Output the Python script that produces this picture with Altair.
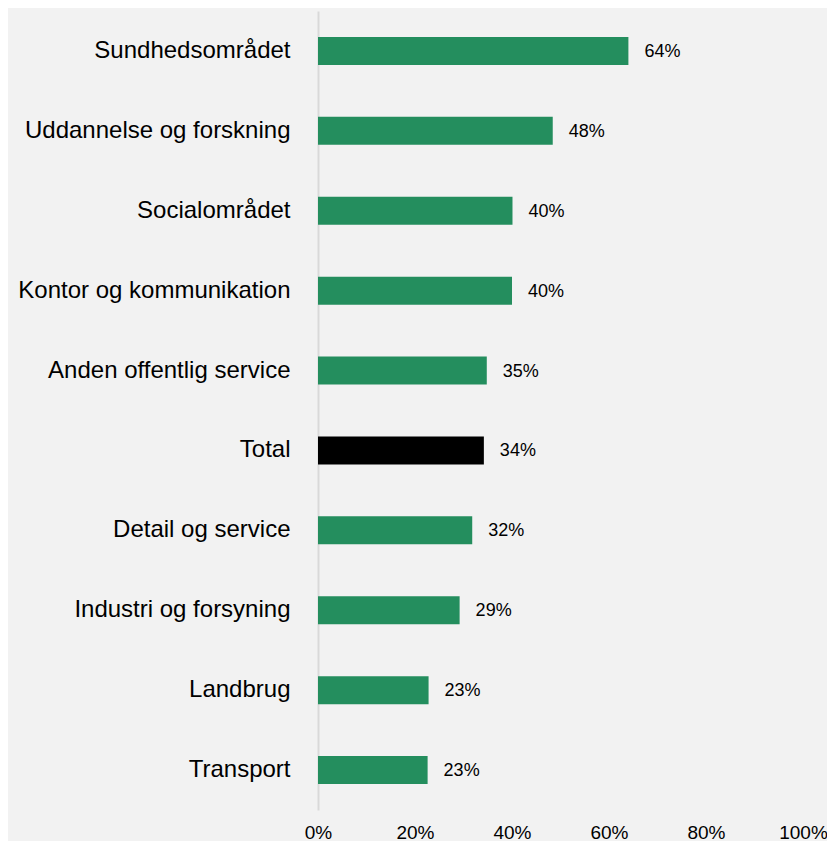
import altair as alt
import pandas as pd

categories = [
    "Sundhedsområdet",
    "Uddannelse og forskning",
    "Socialområdet",
    "Kontor og kommunikation",
    "Anden offentlig service",
    "Total",
    "Detail og service",
    "Industri og forsyning",
    "Landbrug",
    "Transport",
]
values = [0.640, 0.484, 0.401, 0.400, 0.348, 0.342, 0.318, 0.292, 0.228, 0.226]
value_labels = ["64%", "48%", "40%", "40%", "35%", "34%", "32%", "29%", "23%", "23%"]
groups = ["sector", "sector", "sector", "sector", "sector", "total",
          "sector", "sector", "sector", "sector"]
x_ticks = [0, 0.2, 0.4, 0.6, 0.8, 1.0]

df = pd.DataFrame({"category": categories, "value": values,
                   "group": groups, "label": value_labels})

FONT = "Liberation Sans"

y_enc = alt.Y(
    "category:N",
    sort=categories,
    title=None,
    scale=alt.Scale(paddingInner=0.65, paddingOuter=0.325),
    axis=alt.Axis(
        labelFontSize=24,
        labelFont=FONT,
        labelColor="#000000",
        labelPadding=28,
        ticks=False,
        domain=True,
        domainColor="#d9d9d9",
        domainWidth=2,
        grid=False,
        labelLimit=400,
    ),
)

x_enc = alt.X(
    "value:Q",
    title=None,
    scale=alt.Scale(domain=[0, 1], nice=False),
    axis=alt.Axis(
        values=x_ticks,
        format=".0%",
        labelFontSize=19,
        labelFont=FONT,
        labelColor="#000000",
        labelPadding=13,
        labelFlush=False,
        ticks=False,
        domain=False,
        grid=False,
    ),
)

bars = alt.Chart(df).mark_bar().encode(
    x=x_enc,
    y=y_enc,
    color=alt.Color(
        "group:N",
        scale=alt.Scale(domain=["sector", "total"], range=["#248e5e", "#000000"]),
        legend=None,
    ),
)

labels = alt.Chart(df).mark_text(
    align="left", baseline="middle", dx=16, dy=1, fontSize=18, font=FONT, color="#000000"
).encode(
    x=alt.X("value:Q"),
    y=alt.Y("category:N", sort=categories),
    text="label:N",
)

chart = (
    alt.layer(bars, labels)
    .properties(
        width=485,
        height=799,
        background="#f2f2f2",
        autosize=alt.AutoSizeParams(type="none"),
        padding={"left": 310, "top": 3, "right": 24, "bottom": 31},
    )
    .configure_view(stroke=None)
)

chart.save("out.html", embed_options={"renderer": "svg", "actions": False})
